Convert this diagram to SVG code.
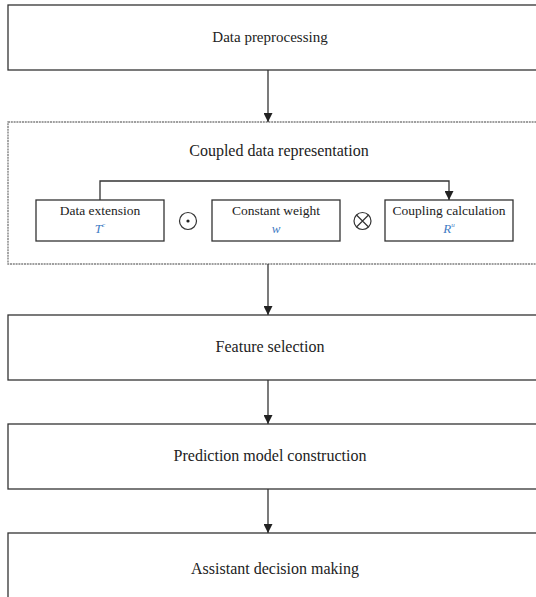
<svg xmlns="http://www.w3.org/2000/svg" width="536" height="597" viewBox="0 0 536 597">
<defs>
<style>
.box{fill:#fff;stroke:#333;stroke-width:1.3}
.outer{fill:#fff;stroke:#808080;stroke-width:1.4;stroke-dasharray:2 0.8}
.t{font-family:"Liberation Serif","Times New Roman",serif;fill:#222;text-anchor:middle}
.m{fill:#3f7cc4;font-style:italic}
.c{fill:none;stroke:#333;stroke-width:1.2}
.ln{fill:none;stroke:#333;stroke-width:1.3}
</style>
<marker id="ah" viewBox="0 0 10 10" refX="10" refY="5" markerWidth="9" markerHeight="9" markerUnits="userSpaceOnUse" orient="auto">
<path d="M0,0 L10,5 L0,10 Z" fill="#222"/>
</marker>
</defs>
<g id="n1"><rect class="box" x="8" y="5" width="540" height="65"/><text class="t" x="270" y="42" font-size="15">Data preprocessing</text></g>
<g id="n2"><rect class="outer" x="8" y="122" width="540" height="142"/><text class="t" x="279" y="156" font-size="16">Coupled data representation</text>
<g id="n2a"><rect class="box" x="36" y="200" width="128" height="41"/><text class="t" x="100" y="215" font-size="13.5">Data extension</text><text class="t m" x="100" y="233" font-size="13">T<tspan font-size="7" dy="-6">c</tspan></text></g>
<g id="op1"><circle class="c" cx="188" cy="221" r="8.5"/><circle cx="188" cy="221" r="1.6" fill="#222"/></g>
<g id="n2b"><rect class="box" x="212" y="200" width="128" height="41"/><text class="t" x="276" y="215" font-size="13.5">Constant weight</text><text class="t m" x="276" y="233" font-size="13">w</text></g>
<g id="op2"><circle class="c" cx="362.5" cy="221" r="8.5"/><path class="c" d="M356.5,215 L368.5,227 M368.5,215 L356.5,227"/></g>
<g id="n2c"><rect class="box" x="385" y="200" width="128" height="41"/><text class="t" x="449" y="215" font-size="13.5">Coupling calculation</text><text class="t m" x="449" y="233" font-size="13">R<tspan font-size="7" dy="-6">u</tspan></text></g>
</g>
<g id="n3"><rect class="box" x="8" y="315" width="540" height="65"/><text class="t" x="270" y="352" font-size="16">Feature selection</text></g>
<g id="n4"><rect class="box" x="8" y="424" width="540" height="65"/><text class="t" x="270" y="461" font-size="16">Prediction model construction</text></g>
<g id="n5"><rect class="box" x="8" y="533" width="540" height="80"/><text class="t" x="275" y="574" font-size="16">Assistant decision making</text></g>
<g id="edges">
<path class="ln" d="M268,70 L268,122" marker-end="url(#ah)"/>
<path class="ln" d="M268,264 L268,315" marker-end="url(#ah)"/>
<path class="ln" d="M268,380 L268,424" marker-end="url(#ah)"/>
<path class="ln" d="M268,489 L268,533" marker-end="url(#ah)"/>
<path class="ln" d="M100,200 L100,181 L449,181 L449,200" marker-end="url(#ah)"/>
</g>
</svg>
